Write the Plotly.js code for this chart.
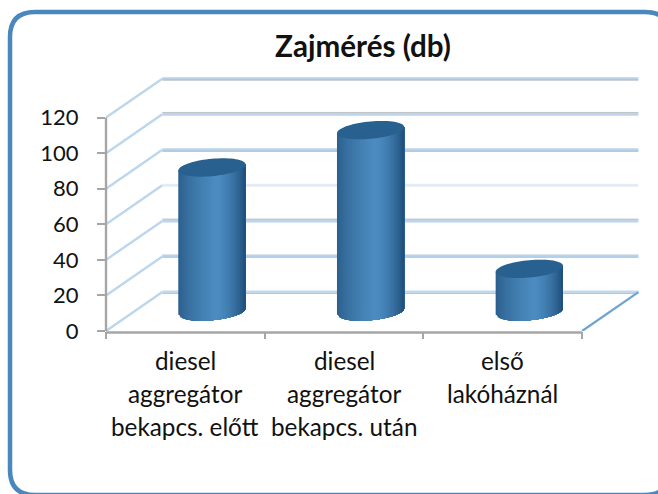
<!DOCTYPE html>
<html>
<head>
<meta charset="utf-8">
<script src="https://cdn.plot.ly/plotly-3.0.1.min.js"></script>
<style>
html,body{margin:0;padding:0;background:#fff;overflow:hidden}
#chart{width:658px;height:494px}
.scatterlayer{filter:blur(0.6px)}
</style>
</head>
<body>
<div id="chart"></div>
<script>
// ---- data ----
const categoryLines = [
  ["diesel", "aggregátor", "bekapcs. előtt"],
  ["diesel", "aggregátor", "bekapcs. után"],
  ["első", "lakóháznál"]
];
const values = [81, 102, 24];
const yTicks = [0, 20, 40, 60, 80, 100, 120];
const xBoundaries = [0, 1, 2, 3];
const titleText = "Zajmérés (db)";

// ---- pseudo-3D geometry, in axis units ----
const W = 658, H = 494;
const depthX = 0.355, depthY = 21.9;
const radius = 0.212, tilt = 1.7, minor = 4.9;
const strips = 36;
const FONT = "Lato, 'Open Sans', sans-serif";

const gridBlue = ["#b7d2ea", "#bcd5eb", "#b9d3ea", "#e3ebf3", "#bcd5eb", "#b2d0ea", "#c3d8eb"]; // 120 → 0 reversed below
const gridGray = ["#b4b8bc", "#c0c3c6", "#a9bccb", "#e6ebef", "#b5b8bb", "#c4d6e4", "#c0c3c7"];
const grayShift = [-0.8, 1.0, -0.8, 0, 1.0, 0.9, -0.8];

const traces = [];
const line = (x, y, color, width) => traces.push({
  x, y, mode: "lines", type: "scatter", cliponaxis: false,
  line: {color, width}, hoverinfo: "skip", showlegend: false
});

// left wall diagonals and back wall lines
[...yTicks].reverse().forEach((lv, i) => {
  line([0, depthX], [lv, lv + depthY], "#bcd6ec", 2.4);
  line([depthX, 3 + depthX], [lv + depthY, lv + depthY], gridBlue[i], 3);
  if (grayShift[i]) line([depthX, 3 + depthX], [lv + depthY + grayShift[i], lv + depthY + grayShift[i]], gridGray[i], 1);
});
// floor edge on the right
line([3, 3 + depthX], [0, depthY], "#6ea4d2", 2.2);

// cylinders
const mix = (a, b, t) => a.map((v, i) => Math.round(v + (b[i] - v) * t));
const shade = u => {
  const dark1 = [42, 92, 138], mid = [76, 140, 193], dark2 = [30, 78, 122];
  const c = u < 0.55 ? mix(dark1, mid, Math.pow(u / 0.55, 0.7))
                     : mix(mid, dark2, Math.pow((u - 0.55) / 0.45, 1.7));
  return `rgb(${c.join(",")})`;
};
const centers = values.map((_, i) => i + 0.49 + depthX / 2);
const midY = depthY / 2;
const botY = c => midY + tilt * c - minor * Math.sqrt(Math.max(0, 1 - c * c));
for (let s = 0; s < strips; s++) {
  const c0 = -1 + 2 * s / strips;
  const xs = [], ys = [];
  values.forEach((v, i) => {
    const cx = centers[i];
    const topY = c => midY + v + tilt * c;
    // each strip runs on to the right edge, so later strips paint over it with no seams
    const n = 12, bx = [], by = [];
    for (let k = 0; k <= n; k++) {
      const c = c0 + (1 - c0) * k / n;
      bx.push(cx + radius * c); by.push(botY(c));
    }
    xs.push(...bx, cx + radius, cx + radius * c0, cx + radius * c0, null);
    ys.push(...by, topY(1), topY(c0), botY(c0), null);
  });
  traces.push({
    x: xs, y: ys, mode: "none", type: "scatter", fill: "toself",
    fillcolor: shade((s + 0.5) / strips),
    hoverinfo: "skip", showlegend: false, cliponaxis: false
  });
}
// top caps
const capX = [], capY = [];
values.forEach((v, i) => {
  for (let k = 0; k <= 72; k++) {
    const t = 2 * Math.PI * k / 72;
    capX.push(centers[i] + radius * Math.cos(t));
    capY.push(midY + v + tilt * Math.cos(t) + minor * Math.sin(t));
  }
  capX.push(null); capY.push(null);
});
traces.push({
  x: capX, y: capY, mode: "none", type: "scatter", fill: "toself",
  fillcolor: "#28618f",
  hoverinfo: "skip", showlegend: false, cliponaxis: false
});

// category labels, one annotation per line for the wide line spacing
const annotations = [];
categoryLines.forEach((lines, i) => lines.forEach((txt, j) => annotations.push({
  x: i + 0.5, xref: "x", xanchor: "center",
  y: 1 - (360 + 33 * j) / H, yref: "paper", yanchor: "middle",
  text: txt, showarrow: false,
  font: {family: FONT, size: 24.3, color: "#111"}
})));

// frame
const px = v => v / W, py = v => 1 - v / H;
const L = 10, T = 12, R = 670, B = 495, r = 25;
const framePath = `M ${px(L + r)} ${py(T)} L ${px(R - r)} ${py(T)} Q ${px(R)} ${py(T)} ${px(R)} ${py(T + r)} ` +
  `L ${px(R)} ${py(B - r)} Q ${px(R)} ${py(B)} ${px(R - r)} ${py(B)} L ${px(L + r)} ${py(B)} ` +
  `Q ${px(L)} ${py(B)} ${px(L)} ${py(B - r)} L ${px(L)} ${py(T + r)} Q ${px(L)} ${py(T)} ${px(L + r)} ${py(T)} Z`;

const layout = {
  width: W, height: H,
  margin: {l: 0, r: 0, t: 0, b: 0},
  paper_bgcolor: "#fff", plot_bgcolor: "rgba(0,0,0,0)",
  font: {family: FONT, color: "#111"},
  title: {
    text: "<b>" + titleText + "</b>",
    x: 363 / W, xanchor: "center", xref: "paper",
    y: 1 - 47 / H, yanchor: "middle", yref: "paper",
    font: {family: FONT, size: 29.6, color: "#111"}
  },
  xaxis: {
    domain: [106 / W, 639.2 / W], range: [0, 3.36],
    tickmode: "array", tickvals: xBoundaries, ticktext: xBoundaries.map(() => ""),
    ticks: "outside", ticklen: 7, tickwidth: 2, tickcolor: "#a6a6a6",
    showgrid: false, zeroline: false, showline: false, fixedrange: true
  },
  yaxis: {
    domain: [1 - 331 / H, 1 - 76 / H], range: [0, 143.4],
    tickmode: "array", tickvals: yTicks,
    ticks: "outside", ticklen: 8, tickwidth: 2, tickcolor: "#a6a6a6",
    ticklabelstandoff: 14,
    tickfont: {family: FONT, size: 22, color: "#111"},
    showgrid: false, zeroline: false, showline: false, fixedrange: true
  },
  shapes: [
    {type: "path", xref: "paper", yref: "paper", path: framePath,
     line: {color: "#4a87bd", width: 4.5}, fillcolor: "rgba(0,0,0,0)", layer: "below"},
    {type: "line", xref: "x", yref: "paper", x0: 0, x1: 3, y0: py(332.5), y1: py(332.5),
     line: {color: "#a6a6a6", width: 2.4}},
    {type: "line", xref: "paper", yref: "y", x0: px(106), x1: px(106), y0: 0, y1: 120,
     line: {color: "#a6a6a6", width: 2.4}}
  ],
  annotations
};
Plotly.newPlot("chart", traces, layout, {displayModeBar: false, staticPlot: true});
</script>
</body>
</html>
